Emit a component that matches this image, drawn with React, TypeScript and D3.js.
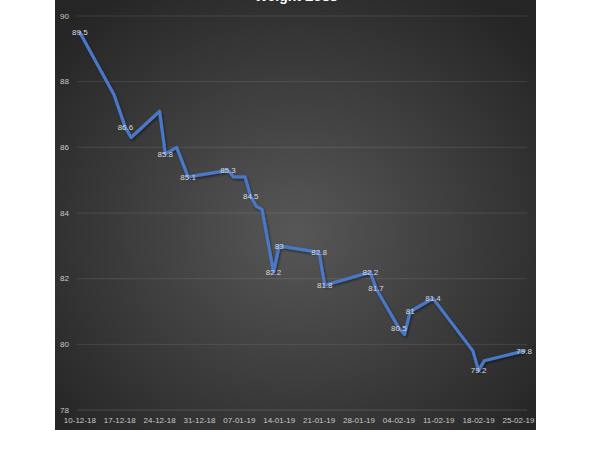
import React from "react";
import * as d3 from "d3";

const dates: string[] = [
  "2018-12-10", "2018-12-16", "2018-12-18", "2018-12-19", "2018-12-24", "2018-12-25",
  "2018-12-27", "2018-12-29", "2019-01-05", "2019-01-06", "2019-01-08", "2019-01-09",
  "2019-01-10", "2019-01-11", "2019-01-13", "2019-01-14", "2019-01-21", "2019-01-22",
  "2019-01-30", "2019-01-31", "2019-02-04", "2019-02-05", "2019-02-06", "2019-02-10",
  "2019-02-17", "2019-02-18", "2019-02-19", "2019-02-26",
];
const weights: number[] = [
  89.5, 87.6, 86.6, 86.3, 87.1, 85.8,
  86.0, 85.1, 85.3, 85.1, 85.1, 84.5,
  84.2, 84.1, 82.2, 83.0, 82.8, 81.8,
  82.2, 81.7, 80.5, 80.3, 81.0, 81.4,
  79.8, 79.2, 79.5, 79.8,
];
const labeledDates: string[] = [
  "2018-12-10", "2018-12-18", "2018-12-25", "2018-12-29", "2019-01-05", "2019-01-09",
  "2019-01-13", "2019-01-14", "2019-01-21", "2019-01-22", "2019-01-30", "2019-01-31",
  "2019-02-04", "2019-02-06", "2019-02-10", "2019-02-18", "2019-02-26",
];
const yTicks: number[] = [78, 80, 82, 84, 86, 88, 90];
const xTickStart = "2018-12-10";
const xTickEnd = "2019-02-25";
const title = "Weight  Loss";

const parse = d3.utcParse("%Y-%m-%d");
const fmt = d3.utcFormat("%d-%m-%y");
const DAY = 86400000;

export default function App() {
  const W = 600, H = 450;
  const first = parse(dates[0])!;
  const last = parse(dates[dates.length - 1])!;
  const x = d3.scaleUtc()
    .domain([new Date(first.getTime() - DAY / 2), new Date(last.getTime() + DAY / 2)])
    .range([77, 527]);
  const y = d3.scaleLinear().domain([78, 90]).range([410, 16]);
  const pts = dates.map((d, i) => ({ d: parse(d)!, v: weights[i], key: d }));
  const line = d3.line<{ d: Date; v: number }>().x(p => x(p.d)).y(p => y(p.v));
  const xTicks = d3.utcDay.every(7)!.range(parse(xTickStart)!, new Date(parse(xTickEnd)!.getTime() + 1))
    .filter(t => Math.round((t.getTime() - parse(xTickStart)!.getTime()) / DAY) % 7 === 0);
  const ticks7 = d3.range(0, 12).map(k => new Date(parse(xTickStart)!.getTime() + k * 7 * DAY))
    .filter(t => t.getTime() <= parse(xTickEnd)!.getTime());
  void xTicks;
  const labelFmt = d3.format("~");
  const font = "'Liberation Sans', Arial, sans-serif";

  return (
    <svg width={W} height={H} style={{ position: "absolute", left: 0, top: 0 }}>
      <defs>
        <radialGradient id="bg" cx="50%" cy="55%" r="65%">
          <stop offset="0%" stopColor="#575757" />
          <stop offset="100%" stopColor="#262626" />
        </radialGradient>
        <filter id="sh" x="-5%" y="-5%" width="110%" height="110%">
          <feDropShadow dx="1" dy="1.5" stdDeviation="1" floodColor="#000" floodOpacity="0.5" />
        </filter>
      </defs>
      <rect x={0} y={0} width={W} height={H} fill="#fff" />
      <rect x={55} y={-10} width={481} height={440} fill="url(#bg)" />
      <text x={296} y={1} textAnchor="middle" fill="#fff" fontSize={14} fontWeight="bold"
        fontFamily={font}>{title}</text>
      {yTicks.map(t => (
        <g key={t}>
          <line x1={77} x2={527} y1={y(t)} y2={y(t)} stroke="#ffffff" strokeOpacity={t === 78 ? 0.14 : 0.1} strokeWidth={1} />
          <text x={69} y={y(t)} dy="0.35em" textAnchor="end" fill="#c8c8c8" fontSize={8} fontFamily={font}>{t}</text>
        </g>
      ))}
      {ticks7.map(t => (
        <text key={t.getTime()} x={x(t)} y={420} dy="0.35em" textAnchor="middle" fill="#c8c8c8"
          fontSize={8} fontFamily={font}>{fmt(t)}</text>
      ))}
      <path d={line(pts) || ""} fill="none" stroke="#4a78c8" strokeWidth={3.2}
        strokeLinejoin="round" strokeLinecap="round" filter="url(#sh)" />
      {pts.filter(p => labeledDates.includes(p.key)).map(p => (
        <text key={p.key} x={x(p.d)} y={y(p.v)} dy="0.35em" textAnchor="middle" fill="#d9d9d9"
          fontSize={8} fontFamily={font}>{labelFmt(p.v)}</text>
      ))}
    </svg>
  );
}
